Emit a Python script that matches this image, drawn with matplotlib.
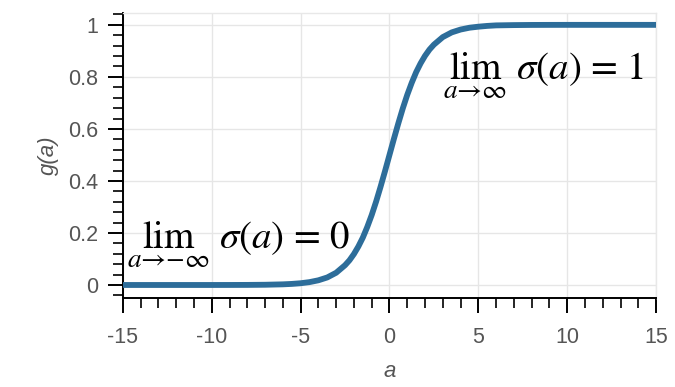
import numpy as np
import matplotlib.pyplot as plt
from matplotlib.ticker import MultipleLocator, FixedLocator

# sigmoid curve values
a_vals = [-15, -14, -13, -12, -11, -10, -9, -8, -7, -6, -5.5, -5, -4.5, -4, -3.5, -3,
          -2.5, -2.25, -2, -1.75, -1.5, -1.25, -1, -0.75, -0.5, -0.25, 0,
          0.25, 0.5, 0.75, 1, 1.25, 1.5, 1.75, 2, 2.25, 2.5,
          3, 3.5, 4, 4.5, 5, 5.5, 6, 7, 8, 9, 10, 11, 12, 13, 14, 15]
g_vals = [0, 0, 0, 0, 0, 0, 0.0001, 0.0003, 0.0009, 0.0025, 0.0041, 0.0067, 0.011, 0.018, 0.029, 0.047,
          0.076, 0.095, 0.119, 0.148, 0.182, 0.223, 0.269, 0.321, 0.378, 0.438, 0.5,
          0.562, 0.622, 0.679, 0.731, 0.777, 0.818, 0.852, 0.881, 0.905, 0.924,
          0.953, 0.971, 0.982, 0.989, 0.993, 0.996, 0.998, 0.9991, 0.9997, 0.9999, 1, 1, 1, 1, 1, 1]

x_ticks = [-15, -10, -5, 0, 5, 10, 15]
y_ticks = [0, 0.2, 0.4, 0.6, 0.8, 1]
y_labels = ['0', '0.2', '0.4', '0.6', '0.8', '1']

plt.rcParams['mathtext.fontset'] = 'stix'
plt.rcParams['font.family'] = 'Liberation Sans'

fig = plt.figure(figsize=(6.75, 3.87), dpi=100)
ax = fig.add_axes([0.182, 0.230, 0.790, 0.736])

ax.plot(a_vals, g_vals, color='#2d6d9a', lw=4.2, solid_capstyle='round', zorder=3)

ax.set_xlim(-15, 15)
ax.set_ylim(-0.05, 1.045)
ax.set_xticks(x_ticks)
ax.set_xticklabels([str(t) for t in x_ticks])
ax.set_yticks(y_ticks)
ax.set_yticklabels(y_labels)
ax.xaxis.set_minor_locator(MultipleLocator(1))
ax.yaxis.set_minor_locator(FixedLocator(np.arange(-0.04, 1.05, 0.04)))

ax.grid(True, which='major', color='#e6e6e6', lw=1)
ax.set_axisbelow(True)
for s in ['top', 'right']:
    ax.spines[s].set_color('#e8e8e8')
    ax.spines[s].set_linewidth(1)
for s in ['left', 'bottom']:
    ax.spines[s].set_color('black')
    ax.spines[s].set_linewidth(1.4)

ax.tick_params(which='major', direction='out', length=11, width=1.4, colors='black',
               labelcolor='#555555', labelsize=15.5, pad=7)
ax.tick_params(axis='x', which='major', pad=10)
ax.tick_params(which='minor', direction='out', length=7, width=1.2, colors='black')

ax.set_xlabel('a', style='italic', color='#555555', fontsize=16, labelpad=9)
ax.set_ylabel('g(a)', style='italic', color='#555555', fontsize=16, labelpad=6)

ax.text(3.0, 0.79, r'$\lim_{a\to\infty}\ \sigma(a)\ =\ 1$', fontsize=28,
        ha='left', va='baseline', zorder=4)
ax.text(-14.77, 0.142, r'$\lim_{a\to-\infty}\ \sigma(a)\ =\ 0$', fontsize=28,
        ha='left', va='baseline', zorder=4)

fig.savefig('out.png', dpi=100)
